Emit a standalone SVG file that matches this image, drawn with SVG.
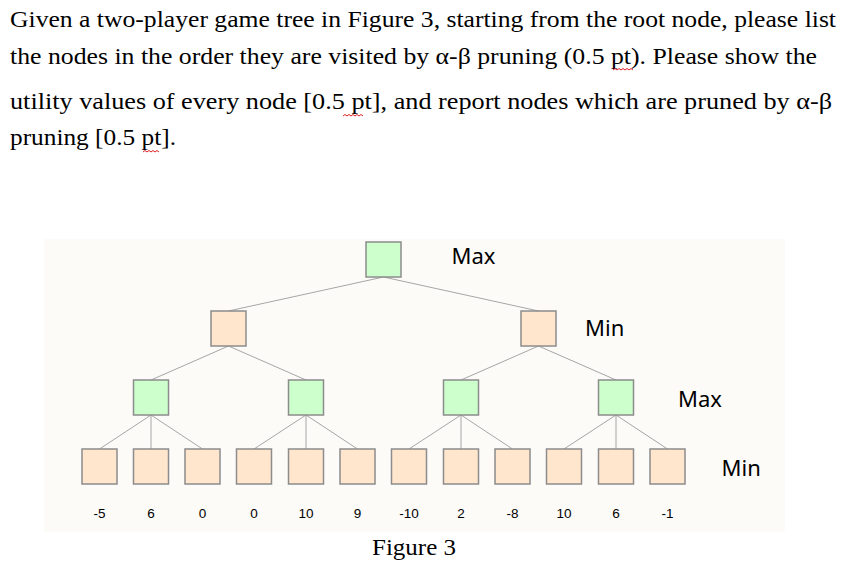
<svg xmlns="http://www.w3.org/2000/svg" width="862" height="573" viewBox="0 0 862 573">
<style>
.q{font-family:"Liberation Serif","Times New Roman",serif;font-size:23.5px;fill:#000}
.lvl{font-family:"Noto Sans","Open Sans",sans-serif;font-size:22px;fill:#000}
.val{font-family:"Liberation Sans",Arial,sans-serif;font-size:13.5px;fill:#000;text-anchor:middle}
.mx{fill:#CCFFCC;stroke:#8C8C8C;stroke-width:1.5}
.mn{fill:#FFE6CC;stroke:#8C8C8C;stroke-width:1.5}
.e{stroke:#A6A6A6;stroke-width:1;fill:none}
.sq{stroke:#E02020;stroke-width:1;fill:none}
</style>
<rect x="0" y="0" width="862" height="573" fill="#FFFFFF"/>
<g id="question">
<text class="q" x="10" y="27" textLength="826" lengthAdjust="spacingAndGlyphs">Given a two-player game tree in Figure 3, starting from the root node, please list</text>
<text class="q" x="10" y="64" textLength="807" lengthAdjust="spacingAndGlyphs">the nodes in the order they are visited by α-β pruning (0.5 pt). Please show the</text>
<text class="q" x="10" y="109" textLength="822" lengthAdjust="spacingAndGlyphs">utility values of every node [0.5 pt], and report nodes which are pruned by α-β</text>
<text class="q" x="10" y="145" textLength="166" lengthAdjust="spacingAndGlyphs">pruning [0.5 pt].</text>
<path class="sq" d="M613,70 l2,-1.5 l2,1.5 l2,-1.5 l2,1.5 l2,-1.5 l2,1.5 l2,-1.5 l2,1.5 l2,-1.5 l2,1.5"/>
<path class="sq" d="M343,116 l2,-1.5 l2,1.5 l2,-1.5 l2,1.5 l2,-1.5 l2,1.5 l2,-1.5 l2,1.5 l2,-1.5 l2,1.5"/>
<path class="sq" d="M143,152 l2,-1.5 l2,1.5 l2,-1.5 l2,1.5 l2,-1.5 l2,1.5 l2,-1.5 l2,1.5"/>
</g>
<rect id="panel" x="44" y="239" width="741" height="293" fill="#FCFBF8"/>
<g id="connectors">
<path class="e" d="M383.5,277 L228.5,311 M383.5,277 L538.5,311"/>
<path class="e" d="M228.5,346 L151,380 M228.5,346 L306,380 M538.5,346 L461,380 M538.5,346 L616,380"/>
<path class="e" d="M151,415 L99.5,449 M151,415 L151,449 M151,415 L202.5,449"/>
<path class="e" d="M306,415 L254,449 M306,415 L306,449 M306,415 L357.5,449"/>
<path class="e" d="M461,415 L409,449 M461,415 L461,449 M461,415 L512.5,449"/>
<path class="e" d="M616,415 L564,449 M616,415 L616,449 M616,415 L667.5,449"/>
</g>
<g id="root"><rect class="mx" x="366" y="242" width="35" height="35"/></g>
<g id="min1"><rect class="mn" x="211" y="311" width="35" height="35"/></g>
<g id="min2"><rect class="mn" x="521" y="311" width="35" height="35"/></g>
<g id="max1"><rect class="mx" x="133.5" y="380" width="35" height="35"/></g>
<g id="max2"><rect class="mx" x="288.5" y="380" width="35" height="35"/></g>
<g id="max3"><rect class="mx" x="443.5" y="380" width="35" height="35"/></g>
<g id="max4"><rect class="mx" x="598.5" y="380" width="35" height="35"/></g>
<g id="leaf1"><rect class="mn" x="82" y="449" width="35" height="35"/><text class="val" x="99.5" y="518">-5</text></g>
<g id="leaf2"><rect class="mn" x="133.5" y="449" width="35" height="35"/><text class="val" x="151" y="518">6</text></g>
<g id="leaf3"><rect class="mn" x="185" y="449" width="35" height="35"/><text class="val" x="202.5" y="518">0</text></g>
<g id="leaf4"><rect class="mn" x="236.5" y="449" width="35" height="35"/><text class="val" x="254" y="518">0</text></g>
<g id="leaf5"><rect class="mn" x="288.5" y="449" width="35" height="35"/><text class="val" x="306" y="518">10</text></g>
<g id="leaf6"><rect class="mn" x="340" y="449" width="35" height="35"/><text class="val" x="357.5" y="518">9</text></g>
<g id="leaf7"><rect class="mn" x="391.5" y="449" width="35" height="35"/><text class="val" x="409" y="518">-10</text></g>
<g id="leaf8"><rect class="mn" x="443.5" y="449" width="35" height="35"/><text class="val" x="461" y="518">2</text></g>
<g id="leaf9"><rect class="mn" x="495" y="449" width="35" height="35"/><text class="val" x="512.5" y="518">-8</text></g>
<g id="leaf10"><rect class="mn" x="546.5" y="449" width="35" height="35"/><text class="val" x="564" y="518">10</text></g>
<g id="leaf11"><rect class="mn" x="598.5" y="449" width="35" height="35"/><text class="val" x="616" y="518">6</text></g>
<g id="leaf12"><rect class="mn" x="650" y="449" width="35" height="35"/><text class="val" x="667.5" y="518">-1</text></g>
<g id="levels">
<text class="lvl" x="451.5" y="264">Max</text>
<text class="lvl" x="585" y="336">Min</text>
<text class="lvl" x="678" y="407">Max</text>
<text class="lvl" x="721.5" y="476">Min</text>
</g>
<text id="caption" class="q" x="372" y="555" textLength="84" lengthAdjust="spacingAndGlyphs">Figure 3</text>
</svg>
